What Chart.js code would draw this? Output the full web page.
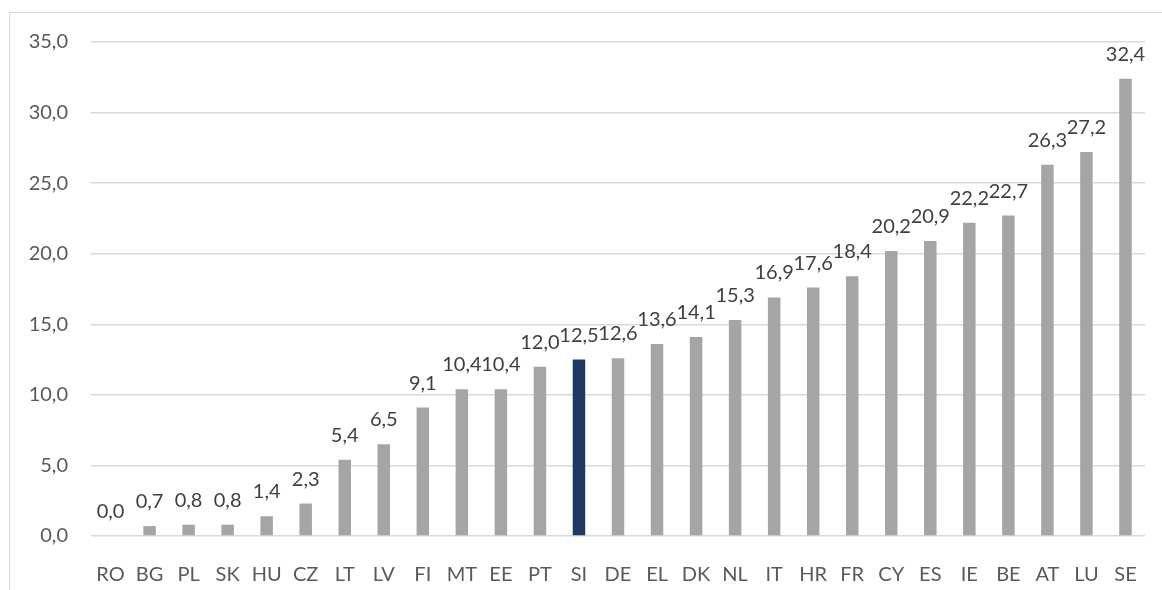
<!DOCTYPE html>
<html>
<head>
<meta charset="utf-8">
<script src="https://cdn.jsdelivr.net/npm/chart.js@4/dist/chart.umd.min.js"></script>
<style>
html,body{margin:0;padding:0;background:#fff;}
#wrap{position:relative;width:1162px;height:590px;}
#frame{position:absolute;left:9px;top:12px;right:0;bottom:0;border-left:1px solid #d9d9d9;border-top:1px solid #d9d9d9;pointer-events:none;}
canvas{position:absolute;left:0;top:0;}
</style>
</head>
<body>
<div id="wrap"><canvas id="c" width="1162" height="590"></canvas><div id="frame"></div></div>
<script>
const categories = ["RO","BG","PL","SK","HU","CZ","LT","LV","FI","MT","EE","PT","SI","DE","EL","DK","NL","IT","HR","FR","CY","ES","IE","BE","AT","LU","SE"];
const values = [0.0,0.7,0.8,0.8,1.4,2.3,5.4,6.5,9.1,10.4,10.4,12.0,12.5,12.6,13.6,14.1,15.3,16.9,17.6,18.4,20.2,20.9,22.2,22.7,26.3,27.2,32.4];
const highlight = "SI";
const yTicks = {min:0, max:35, step:5};

const FONT = "Lato, 'Open Sans', sans-serif";
const fmt = v => Number(v).toFixed(1).replace('.', ',');

const labelPlugin = {
  id: 'valueLabels',
  afterDatasetsDraw(chart) {
    const ctx = chart.ctx;
    const meta = chart.getDatasetMeta(0);
    ctx.save();
    ctx.font = "20px " + FONT;
    ctx.fillStyle = "#404040";
    ctx.textAlign = "center";
    ctx.textBaseline = "alphabetic";
    meta.data.forEach((bar, i) => {
      ctx.fillText(fmt(values[i]), bar.x, bar.y - 18);
    });
    ctx.restore();
  }
};

new Chart(document.getElementById('c'), {
  type: 'bar',
  data: {
    labels: categories,
    datasets: [{
      data: values,
      backgroundColor: categories.map(c => c === highlight ? '#1F3864' : '#A5A5A5'),
      categoryPercentage: 1.0,
      barPercentage: 0.32
    }]
  },
  options: {
    responsive: false,
    animation: false,
    layout: {padding: {top: 42, right: 17, left: 0, bottom: 0}},
    plugins: {legend: {display: false}, tooltip: {enabled: false}},
    scales: {
      x: {
        grid: {display: false},
        border: {display: false},
        ticks: {color: '#595959', font: {family: FONT, size: 20}, padding: 19, maxRotation: 0, autoSkip: false},
        afterFit(s) { s.height = 54; }
      },
      y: {
        min: yTicks.min, max: yTicks.max,
        grid: {color: '#d9d9d9', lineWidth: 1.5, drawTicks: false},
        border: {display: false},
        ticks: {stepSize: yTicks.step, color: '#595959', font: {family: FONT, size: 20}, padding: 23, callback: v => fmt(v)},
        afterFit(s) { s.width = 91; }
      }
    }
  },
  plugins: [labelPlugin]
});
</script>
</body>
</html>
